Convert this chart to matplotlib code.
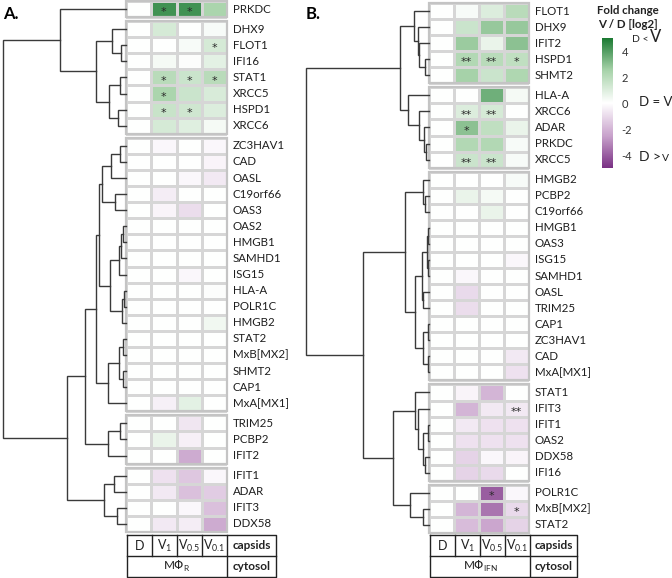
import matplotlib
matplotlib.use("Agg")
import matplotlib.pyplot as plt
import numpy as np
from matplotlib.colors import LinearSegmentedColormap
from matplotlib.patches import Rectangle

plt.rcParams['font.family'] = ['Lato', 'DejaVu Sans']

# ---------------- data ----------------
conditions = ["D", "V1", "V0.5", "V0.1"]

genes_A = ["PRKDC",
           "DHX9", "FLOT1", "IFI16", "STAT1", "XRCC5", "HSPD1", "XRCC6",
           "ZC3HAV1", "CAD", "OASL", "C19orf66", "OAS3", "OAS2", "HMGB1", "SAMHD1",
           "ISG15", "HLA-A", "POLR1C", "HMGB2", "STAT2", "MxB[MX2]", "SHMT2", "CAP1", "MxA[MX1]",
           "TRIM25", "PCBP2", "IFIT2",
           "IFIT1", "ADAR", "IFIT3", "DDX58"]
clusters_A = [1, 7, 17, 3, 4]
values_A = [
    [0, 4.3, 4.3, 2.4],
    [0, 1.2, 0.0, 0.2],
    [0, 0.0, 0.2, 1.2],
    [0, 0.3, 0.1, 0.8],
    [0, 2.0, 1.5, 2.0],
    [0, 2.4, 1.5, 1.1],
    [0, 1.6, 1.4, 1.0],
    [0, 1.2, 0.9, 0.3],
    [0, -0.2, 0.0, -0.2],
    [0, 0.0, 0.0, -0.3],
    [0, 0.0, -0.2, -0.6],
    [0, -0.5, 0.0, 0.0],
    [0, -0.3, -0.9, 0.0],
    [0, 0.0, 0.0, 0.0],
    [0, 0.0, 0.0, 0.0],
    [0, 0.0, 0.0, 0.0],
    [0, 0.0, -0.2, 0.0],
    [0, 0.0, 0.0, 0.1],
    [0, 0.0, 0.0, 0.0],
    [0, 0.0, 0.0, 0.4],
    [0, 0.0, 0.0, 0.0],
    [0, 0.0, 0.0, 0.0],
    [0, 0.0, 0.0, 0.0],
    [0, 0.0, 0.0, 0.0],
    [0, -0.4, 0.8, 0.0],
    [0, 0.0, -0.7, 0.0],
    [0, 0.6, -0.4, 0.0],
    [0, 0.0, -2.3, 0.0],
    [0, -0.8, -1.5, -0.2],
    [0, -0.6, -1.7, -1.4],
    [0, 0.0, -0.2, -1.7],
    [0, -0.6, -0.5, -2.3],
]
stars_A = {"PRKDC": ["", "*", "*", ""], "FLOT1": ["", "", "", "*"],
           "STAT1": ["", "*", "*", "*"], "XRCC5": ["", "*", "", ""],
           "HSPD1": ["", "*", "*", ""]}

tree_A = (123,
          (66, "PRKDC",
           (30, (14, "DHX9", (5, "FLOT1", "IFI16")),
            (17, (6, "STAT1", "XRCC5"), (8, "HSPD1", "XRCC6")))),
          (59,
           (41,
            (30,
             (27, (24, (15, (6, "ZC3HAV1", "CAD"), "OASL"), (11, "C19orf66", "OAS3")),
              (16, (7, (5, (3, "OAS2", "HMGB1"), "SAMHD1"), "ISG15"),
               (4, (2, "HLA-A", "POLR1C"), "HMGB2"))),
             (18, (7, (3, "STAT2", "MxB[MX2]"), (3, "SHMT2", "CAP1")), "MxA[MX1]")),
            (18, (6, "TRIM25", "PCBP2"), "IFIT2")),
           (22, (12, "IFIT1", "ADAR"), (9, "IFIT3", "DDX58"))))

genes_B = ["FLOT1", "DHX9", "IFIT2", "HSPD1", "SHMT2",
           "HLA-A", "XRCC6", "ADAR", "PRKDC", "XRCC5",
           "HMGB2", "PCBP2", "C19orf66", "HMGB1", "OAS3", "ISG15", "SAMHD1", "OASL",
           "TRIM25", "CAP1", "ZC3HAV1", "CAD", "MxA[MX1]",
           "STAT1", "IFIT3", "IFIT1", "OAS2", "DDX58", "IFI16",
           "POLR1C", "MxB[MX2]", "STAT2"]
clusters_B = [5, 5, 13, 6, 3]
values_B = [
    [0, 0.2, 1.0, 2.0],
    [0, 1.5, 2.8, 2.8],
    [0, 2.7, 0.6, 3.0],
    [0, 2.2, 2.0, 1.8],
    [0, 2.5, 1.5, 2.3],
    [0, 0.0, 3.5, 0.3],
    [0, 1.0, 1.2, 0.0],
    [0, 3.0, 1.8, 0.6],
    [0, 2.2, 2.2, 0.2],
    [0, 1.5, 1.5, 0.2],
    [0, 0.0, 0.0, 0.2],
    [0, 0.6, 0.3, 0.0],
    [0, 0.0, 0.6, 0.0],
    [0, 0.0, 0.0, 0.0],
    [0, 0.0, 0.0, 0.0],
    [0, 0.0, 0.0, -0.2],
    [0, -0.2, 0.0, 0.0],
    [0, -1.0, 0.0, 0.0],
    [0, -0.9, 0.0, 0.0],
    [0, 0.0, 0.0, 0.0],
    [0, 0.0, 0.0, 0.0],
    [0, 0.0, 0.0, -0.6],
    [0, 0.0, 0.0, -0.8],
    [0, -0.3, -2.0, 0.0],
    [0, -2.0, -0.6, -0.6],
    [0, -0.6, -0.8, -0.8],
    [0, -0.8, -0.8, -0.8],
    [0, -1.2, -0.2, -0.3],
    [0, -1.2, -1.0, 0.0],
    [0, 0.0, -4.0, -0.2],
    [0, -2.0, -3.5, -1.0],
    [0, -1.8, -2.4, -1.2],
]
stars_B = {"HSPD1": ["", "**", "**", "*"], "XRCC6": ["", "**", "**", ""],
           "ADAR": ["", "*", "", ""], "XRCC5": ["", "**", "**", ""],
           "IFIT3": ["", "", "", "**"], "POLR1C": ["", "", "*", ""],
           "MxB[MX2]": ["", "", "", "*"]}

tree_B = (123,
          (29,
           (15, "FLOT1", (11, "DHX9", (10, "IFIT2", (4, "HSPD1", "SHMT2")))),
           (21, "HLA-A", (10, "XRCC6", (5, "ADAR", (3, "PRKDC", "XRCC5"))))),
          (66,
           (24,
            (6, "HMGB2", (4, "PCBP2", "C19orf66")),
            (14,
             (7, (2, (1, "HMGB1", "OAS3"), (1, "ISG15", "SAMHD1")), (6, "OASL", "TRIM25")),
             (6, (1, "CAP1", "ZC3HAV1"), (1, "CAD", "MxA[MX1]")))),
           (36,
            (14, "STAT1", (11, "IFIT3", (6, (1, "IFIT1", "OAS2"), (4, "DDX58", "IFI16")))),
            (19, "POLR1C", (6, "MxB[MX2]", "STAT2")))))

cbar_ticks = [-4, -2, 0, 2, 4]

# ---------------- figure ----------------
W, H = 672, 578
fig = plt.figure(figsize=(W / 100, H / 100), dpi=100)


def px_ax(x0, y0, x1, y1, **kw):
    return fig.add_axes([x0 / W, 1 - y1 / H, (x1 - x0) / W, (y1 - y0) / H], **kw)


cmap = LinearSegmentedColormap.from_list(
    "pg", ["#7a3184", "#c9a3cc", "#ffffff", "#a8d3aa", "#1c7a33"])
VMIN, VMAX = -5, 5
GAP = 0.25
DCOL = "#3a3a3a"


def draw_tree(ax, node, ypos):
    if isinstance(node, str):
        return ypos[node], 0
    h, left, right = node
    yl, hl = draw_tree(ax, left, ypos)
    yr, hr = draw_tree(ax, right, ypos)
    ax.plot([hl, h, h, hr], [yl, yl, yr, yr], color=DCOL, lw=1.0,
            solid_joinstyle="miter", clip_on=False)
    return (yl + yr) / 2, h


def panel(heat_px, dendro_px, genes, clusters, values, stars, tree, dmax):
    vals = np.array(values, dtype=float)
    total = len(genes) + GAP * (len(clusters) - 1)
    axh = px_ax(*heat_px)
    axd = px_ax(*dendro_px)
    ypos = {}
    k = 0
    for c, n in enumerate(clusters):
        top = k + c * GAP
        X = np.arange(5)
        Y = top + np.arange(n + 1)
        axh.pcolormesh(X, Y, vals[k:k + n], cmap=cmap, vmin=VMIN, vmax=VMAX,
                       edgecolors="#d6d6d6", linewidth=0.8)
        axh.add_patch(Rectangle((0, top), 4, n, fill=False, ec="#c4c4c4", lw=1.6,
                                clip_on=False, zorder=3))
        for i in range(n):
            g = genes[k + i]
            yc = top + i + 0.5
            ypos[g] = yc
            axh.text(4.22, yc, g, va="center", ha="left", fontsize=8.3, color="#1e1e1e")
            if g in stars:
                for j, s in enumerate(stars[g]):
                    if s:
                        axh.text(j + 0.5, yc + 0.2, s, ha="center", va="center",
                                 fontsize=8, color="#2a2a2a", family="DejaVu Sans")
        k += n
    axh.set_xlim(0, 4)
    axh.set_ylim(total, 0)
    axh.axis("off")
    draw_tree(axd, tree, ypos)
    axd.set_xlim(dmax, 0)
    axd.set_ylim(total, 0)
    axd.axis("off")


panel((126, 1, 227, 532), (0, 1, 126, 532), genes_A, clusters_A, values_A,
      stars_A, tree_A, 126)
panel((429, 3, 529, 533), (300, 3, 429, 533), genes_B, clusters_B, values_B,
      stars_B, tree_B, 129)

# --------------- bottom tables ---------------
def table(x0, y0, x1, y1, colw, sub):
    ax = px_ax(x0, y0, x1, y1)
    w, h = x1 - x0, y1 - y0
    ax.set_xlim(0, w)
    ax.set_ylim(h, 0)
    ax.axis("off")
    lc = dict(color="#222222", lw=1.0, clip_on=False)
    ax.plot([0, w, w, 0, 0], [0, 0, h, h, 0], **lc)
    ax.plot([0, w], [h / 2, h / 2], **lc)
    for i in range(1, 5):
        xx = colw * i
        ax.plot([xx, xx], [0, h / 2 if i < 4 else h], **lc)
    labels = ["D", r"V$_{\mathregular{1}}$", r"V$_{\mathregular{0.5}}$", r"V$_{\mathregular{0.1}}$"]
    for i, lab in enumerate(labels):
        ax.text(colw * (i + 0.5), h / 4 + 0.5, lab, ha="center", va="center",
                fontsize=9, color="#222222")
    ax.text((4 * colw + w) / 2, h / 4, "capsids", ha="center", va="center",
            fontsize=8.5, fontweight="bold", color="#222222")
    ax.text((4 * colw + w) / 2, 3 * h / 4, "cytosol", ha="center", va="center",
            fontsize=8.5, fontweight="bold", color="#222222")
    ax.text(2 * colw, 3 * h / 4, r"M$\Phi_{\mathregular{" + sub + "}}$", ha="center",
            va="center", fontsize=8.5, color="#222222")


table(127, 535, 276, 577, 25.0, "R")
table(430, 535, 577, 577, 25.0, "IFN")

# --------------- panel letters ---------------
fig.text(3 / W, 1 - 14 / H, "A.", fontsize=12, fontweight="bold", va="center", ha="left")
fig.text(306 / W, 1 - 14 / H, "B.", fontsize=12, fontweight="bold", va="center", ha="left")

# --------------- colorbar ---------------
cax = px_ax(602, 38, 613, 168)
sm = matplotlib.cm.ScalarMappable(norm=matplotlib.colors.Normalize(VMIN, VMAX), cmap=cmap)
cb = fig.colorbar(sm, cax=cax, ticks=cbar_ticks)
cb.outline.set_visible(False)
cax.tick_params(length=0, pad=6, labelsize=8, labelcolor="#333333")
cax.set_yticklabels([str(t) for t in cbar_ticks])

fig.text(628 / W, 1 - 10 / H, "Fold change", ha="center", va="center",
         fontsize=8.3, fontweight="bold", color="#222222")
fig.text(628 / W, 1 - 24 / H, "V / D [log2]", ha="center", va="center",
         fontsize=8.3, fontweight="bold", color="#222222")
fig.text(632 / W, 1 - 42 / H, "D <", ha="left", va="baseline", fontsize=7.5, color="#222222")
fig.text(650 / W, 1 - 42 / H, "V", ha="left", va="baseline", fontsize=12, color="#222222")
fig.text(639 / W, 1 - 102 / H, "D = V", ha="left", va="center", fontsize=9.5, color="#222222")
fig.text(639 / W, 1 - 161 / H, "D >", ha="left", va="baseline", fontsize=10, color="#222222")
fig.text(662 / W, 1 - 161 / H, "V", ha="left", va="baseline", fontsize=7.5, color="#222222")

fig.savefig("out.png", dpi=100)
